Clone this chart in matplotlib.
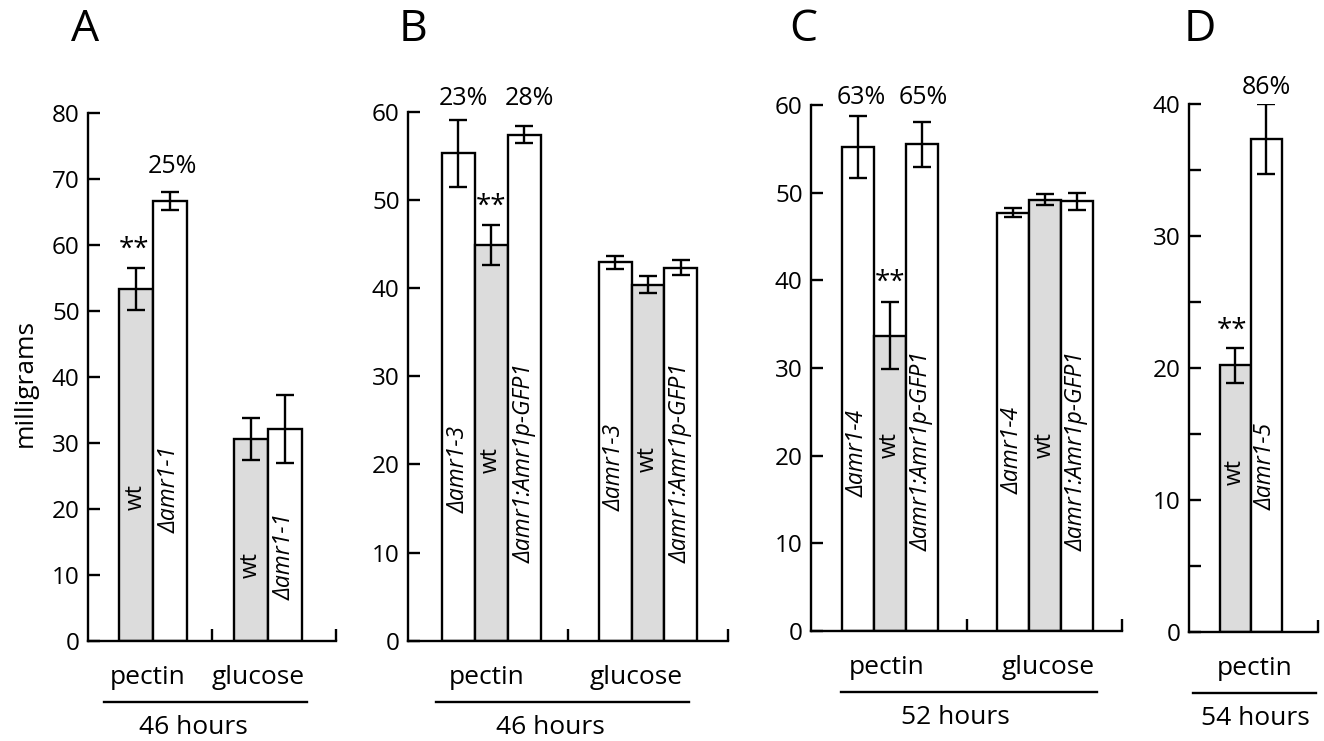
import matplotlib
matplotlib.use("Agg")
import matplotlib.pyplot as plt
from matplotlib.transforms import offset_copy

plt.rcParams['font.family'] = ['Open Sans', 'DejaVu Sans']

# ---- data ----
# panel A (46 hours)
a_groups = ['pectin', 'glucose']
a_strains = ['wt', 'Δamr1-1']
a_means = [53.3, 66.7, 30.6, 32.1]
a_errs = [3.15, 1.35, 3.15, 5.15]
a_pct = ['25%']

# panel B (46 hours)
b_groups = ['pectin', 'glucose']
b_strains = ['Δamr1-3', 'wt', 'Δamr1:Amr1p-GFP1']
b_means = [55.3, 44.9, 57.4, 42.9, 40.4, 42.3]
b_errs = [3.8, 2.3, 0.95, 0.7, 0.95, 0.85]
b_pct = ['23%', '28%']

# panel C (52 hours)
c_groups = ['pectin', 'glucose']
c_strains = ['Δamr1-4', 'wt', 'Δamr1:Amr1p-GFP1']
c_means = [55.2, 33.7, 55.5, 47.7, 49.2, 49.0]
c_errs = [3.55, 3.85, 2.6, 0.5, 0.65, 1.0]
c_pct = ['63%', '65%']

# panel D (54 hours)
d_groups = ['pectin']
d_strains = ['wt', 'Δamr1-5']
d_means = [20.2, 37.4]
d_errs = [1.35, 2.65]
d_pct = ['86%']

GRAY = '#dcdcdc'
LW = 1.7

fig = plt.figure(figsize=(13.24, 7.41), dpi=100)


def px_axes(left, right, bottom, top):
    # pixel box -> figure fraction
    return fig.add_axes([left / 1324, (741 - bottom) / 741,
                         (right - left) / 1324, (bottom - top) / 741])


def panel(ax, strains, groups, means, errs, xs, width, ymax, yticks, ylabels,
          xticks, lab_y, pct, pct_x, pct_y, star_x, star_y,
          glab_x, line_x, hours, hours_x):
    n = len(strains)
    for g in range(len(groups)):
        for i, s in enumerate(strains):
            k = g * n + i
            col = GRAY if s == 'wt' else 'white'
            ax.bar(xs[k], means[k], width, color=col, edgecolor='black',
                   linewidth=LW, zorder=2)
            ax.errorbar(xs[k], means[k], yerr=errs[k], color='black',
                        elinewidth=LW, capsize=6.5, capthick=LW, zorder=3)
            ax.text(xs[k], lab_y[k], s, rotation=90, ha='center', va='center',
                    fontsize=16.5, style='normal' if s == 'wt' else 'italic')
    ax.set_xlim(0, xticks[-1])
    ax.set_ylim(0, ymax)
    ax.set_yticks(yticks)
    ax.set_yticklabels(ylabels, fontsize=17.5)
    ax.set_xticks(xticks)
    ax.set_xticklabels([''] * len(xticks))
    ax.tick_params(axis='y', direction='in', length=8.5, width=LW, pad=6)
    ax.tick_params(axis='x', direction='in', length=9, width=LW)
    for sp in ['top', 'right']:
        ax.spines[sp].set_visible(False)
    for sp in ['left', 'bottom']:
        ax.spines[sp].set_linewidth(LW)
    for t, x in zip(pct, pct_x):
        ax.text(x, pct_y, t, ha='center', va='center', fontsize=18)
    ax.text(star_x, star_y, '**', ha='center', va='center', fontsize=20)
    tr = ax.get_xaxis_transform()
    for gname, gx in zip(groups, glab_x):
        ax.text(gx, 0, gname, ha='center', va='center', fontsize=19,
                transform=offset_copy(tr, fig, y=-37, units='dots'))
    ax.plot(line_x, [0, 0], color='black', lw=LW, clip_on=False,
            transform=offset_copy(tr, fig, y=-61, units='dots'))
    ax.text(hours_x, 0, hours, ha='center', va='center', fontsize=19,
            transform=offset_copy(tr, fig, y=-87, units='dots'))


# A
axA = px_axes(88, 336, 640.7, 113)
wA = 0.274
xsA = [0.524 - wA / 2, 0.524 + wA / 2, 1.452 - wA / 2, 1.452 + wA / 2]
panel(axA, a_strains, a_groups, a_means, a_errs, xsA, wA, 80,
      range(0, 81, 10), [str(v) for v in range(0, 81, 10)], [1, 2],
      [21.7, 22.9, 11.5, 12.7], a_pct, [0.677], 71.9, 0.371, 59.3,
      [0.484, 1.371], [0.129, 1.766], '46 hours', 0.847)

# B
axB = px_axes(408, 728, 640.7, 111.7)
wB = 0.206
xsB = [c + d * wB for c in (0.52, 1.5) for d in (-1, 0, 1)]
panel(axB, b_strains, b_groups, b_means, b_errs, xsB, wB, 60,
      range(0, 61, 10), [str(v) for v in range(0, 61, 10)], [1, 2],
      [19.4, 20.5, 20.1, 19.7, 20.6, 20.1], b_pct, [0.344, 0.756], 61.5,
      0.519, 49.2, [0.492, 1.425], [0.173, 1.756], '46 hours', 0.8875)

# C
axC = px_axes(811, 1122, 631, 105)
wC = 0.206
xsC = [c + d * wC for c in (0.508, 1.504) for d in (-1, 0, 1)]
panel(axC, c_strains, c_groups, c_means, c_errs, xsC, wC, 60,
      range(0, 61, 10), [str(v) for v in range(0, 61, 10)], [1, 2],
      [20.3, 21.2, 20.5, 20.6, 21.2, 20.5], c_pct, [0.326, 0.72], 60.8,
      0.508, 39.7, [0.487, 1.524], [0.193, 1.837], '52 hours', 0.93)

# D
axD = px_axes(1189, 1318, 631.7, 104.3)
wD = 0.24
xsD = [0.478 - wD / 2, 0.478 + wD / 2]
panel(axD, d_strains, d_groups, d_means, d_errs, xsD, wD, 40,
      range(0, 41, 5), [str(v) if v % 10 == 0 else '' for v in range(0, 41, 5)], [1],
      [12.1, 12.5], d_pct, [0.602], 41.3, 0.331, 22.8,
      [0.512], [0.03, 0.984], '54 hours', 0.512)

# panel letters and y label
for letter, x in zip('ABCD', [85, 413, 803, 1200]):
    fig.text(x / 1324, 1 - 30 / 741, letter, ha='center', va='center', fontsize=32)
fig.text(25 / 1324, 1 - 383 / 741, 'milligrams', rotation=90,
         ha='center', va='center', fontsize=19)

fig.savefig('out.png', dpi=100)
